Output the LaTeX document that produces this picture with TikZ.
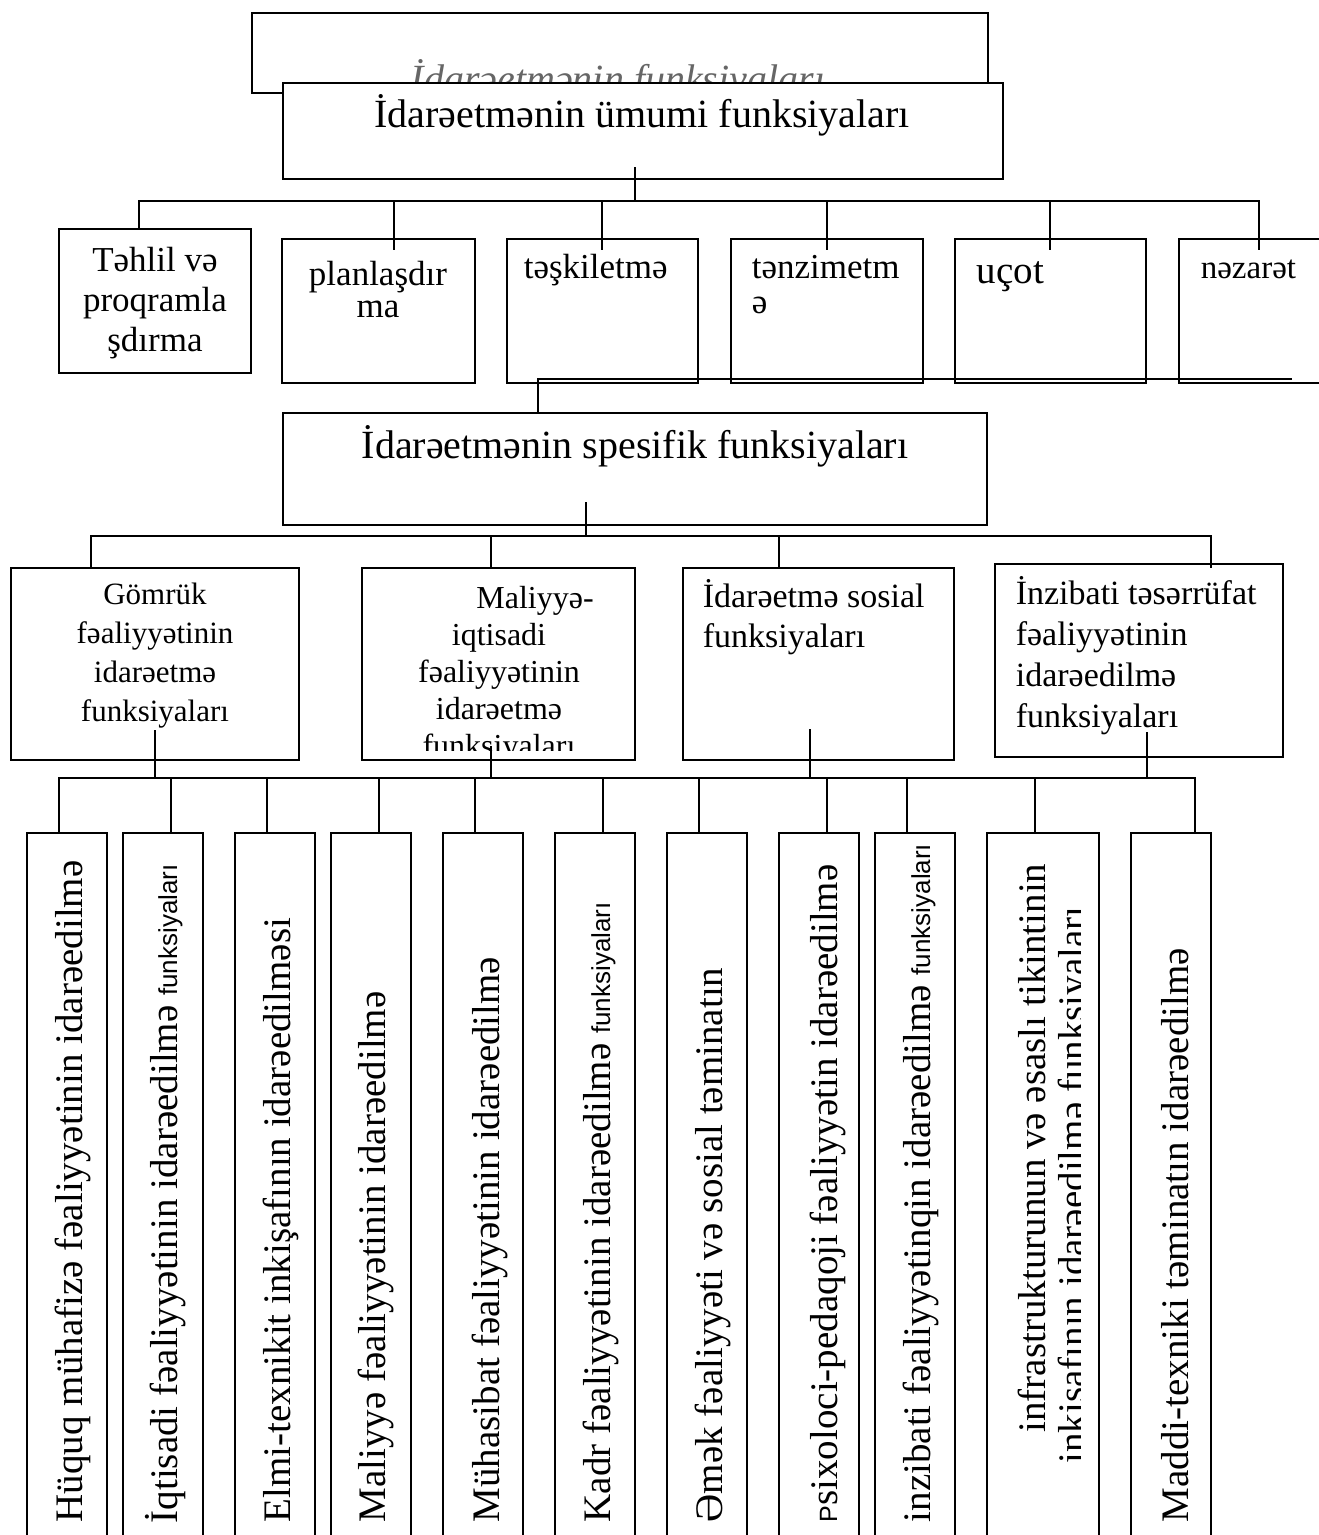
\documentclass[tikz,border=0pt]{standalone}
\usepackage{fontspec}
\setmainfont{Liberation Serif}
\setsansfont{Liberation Sans}

\begin{document}
\begin{tikzpicture}[x=1pt, y=-1pt, line width=1.6pt, line cap=rect,
	box/.style={draw, fill=white, inner sep=0pt},
	head/.style={anchor=base, inner sep=0pt, font=\fontsize{40}{48}\selectfont},
	cell/.style={anchor=base, align=center, inner sep=0pt, font=\fontsize{35}{40}\selectfont},
	lcell/.style={anchor=base west, align=left, inner sep=0pt, font=\fontsize{35}{40}\selectfont},
	side/.style={anchor=base west, rotate=90, inner sep=0pt, font=\fontsize{39}{45}\selectfont}]

	% \drawbox#name#x1#y1#x2#y2
	\def\drawbox#1#2#3#4#5{
		\node[box, minimum width=#4-#2, minimum height=#5-#3] (#1) at ({(#2+#4)/2}, {(#3+#5)/2}) {};
	}
	% smaller sans word
	\def\smallsf#1{{\sffamily\fontsize{26}{30}\selectfont #1}}

	\useasboundingbox (0, 0) rectangle (1319, 1535);
	\clip (0, 0) rectangle (1319, 1535);

	% title (multi-line texts sit on their last baseline)
	\drawbox{title}{252}{13}{988}{93}
	\node[head, font=\itshape\fontsize{40}{48}\selectfont, text=black!60] (titletext) at (618, 92) {İdarəetmənin funksiyaları};
	\drawbox{umumi}{283}{83}{1003}{179}
	\node[head] (umumitext) at (642, 127) {İdarəetmənin ümumi funksiyaları};

	% general functions
	\drawbox{tahlil}{59}{229}{251}{373}
	\drawbox{plan}{282}{239}{475}{383}
	\drawbox{teskil}{507}{239}{698}{383}
	\drawbox{tenzim}{731}{239}{923}{383}
	\drawbox{ucot}{955}{239}{1146}{383}
	\drawbox{nezaret}{1179}{239}{1340}{383}

	\node[cell] (tahliltext) at (155, 351) {Təhlil və\\proqramla\\şdırma};
	\node[cell, font=\fontsize{35}{32}\selectfont] (plantext) at (378, 317) {planlaşdır\\ma};
	\node[lcell] (teskiltext) at (523, 278) {təşkiletmə};
	\node[lcell, font=\fontsize{35}{35}\selectfont] (tenzimtext) at (751, 313) {tənzimetm\\ə};
	\node[lcell, font=\fontsize{39}{45}\selectfont] (ucottext) at (976, 283) {uçot};
	\node[lcell, font=\fontsize{33}{40}\selectfont] (nezarettext) at (1200, 278) {nəzarət};

	\coordinate (umumiout) at (635, 168);
	\coordinate (busA) at (635, 201);
	\draw (umumiout) -- (busA);
	\foreach \n/\x/\e in {tahlil/139/0, plan/394/11, teskil/602/11, tenzim/827/11, ucot/1050/11, nezaret/1259/11} {
		\coordinate (up-\n) at (\x, 201);
		\draw (up-\n) -- (up-\n |- \n.north) -- ++(0, \e);
	}
	\draw (up-tahlil) -- (up-nezaret);

	% specific functions
	\drawbox{spesifik}{283}{413}{987}{525}
	\node[head] (spesifiktext) at (635, 458) {İdarəetmənin spesifik funksiyaları};

	\coordinate (rowend) at (1291, 379);
	\coordinate (rowjoin) at (538, 379);
	\draw (rowend) -- (rowjoin) -- (rowjoin |- spesifik.north);

	\drawbox{gomruk}{11}{568}{299}{760}
	\drawbox{maliyye}{362}{568}{635}{760}
	\drawbox{sosial}{683}{568}{954}{760}
	\drawbox{inzibati}{995}{564}{1283}{757}

	\node[cell, font=\fontsize{31}{39}\selectfont] (gomruktext) at (155, 721) {Gömrük\\fəaliyyətinin\\idarəetmə\\funksiyaları};
	\begin{scope}
		\clip (maliyye.north west) rectangle (635, 750);
		\node[cell, font=\fontsize{32}{37}\selectfont] (maliyyetext) at (499, 756) {\hspace*{72pt}Maliyyə-\\iqtisadi\\fəaliyyətinin\\idarəetmə\\funksiyaları};
	\end{scope}
	\node[lcell, font=\fontsize{34}{40}\selectfont] (sosialtext) at (702, 647) {İdarəetmə sosial\\funksiyaları};
	\node[lcell, font=\fontsize{34}{41}\selectfont] (inzibatitext) at (1015, 727) {İnzibati təsərrüfat\\fəaliyyətinin\\idarəedilmə\\funksiyaları};

	\coordinate (spesifikout) at (586, 503);
	\coordinate (busB) at (586, 536);
	\draw (spesifikout) -- (busB);
	\foreach \n/\x/\e in {gomruk/91/0, maliyye/491/0, sosial/779/0, inzibati/1211/4} {
		\coordinate (mid-\n) at (\x, 536);
		\draw (mid-\n) -- (mid-\n |- \n.north) -- ++(0, \e);
	}
	\draw (mid-gomruk) -- (mid-inzibati);

	% branches
	\foreach \n/\x/\y in {gomruk/155/731, maliyye/491/747, sosial/810/730, inzibati/1147/733} {
		\coordinate (out-\n) at (\x, \y);
		\coordinate (join-\n) at (\x, 778);
		\draw (out-\n) -- (join-\n);
	}
	\foreach \i/\x/\r/\d in {1/27/107/59, 2/123/203/171, 3/235/315/267, 4/331/411/379, 5/443/523/475, 6/555/635/603,
		7/667/747/699, 8/779/859/827, 9/875/955/907, 10/987/1099/1035, 11/1131/1211/1195} {
		\drawbox{b\i}{\x}{833}{\r}{1560}
		\coordinate (low-\i) at (\d, 778);
		\draw (low-\i) -- (low-\i |- b\i.north);
	}
	\draw (low-1) -- (low-11);

	\node[side] (s1) at (82, 1523) {Hüquq mühafizə fəaliyyətinin idarəedilmə};
	\node[side] (s2) at (177, 1524) {İqtisadi fəaliyyətinin idarəedilmə \smallsf{funksiyaları}};
	\node[side] (s3) at (290, 1523) {Elmi-texnikit inkişafının idarəedilməsi};
	\node[side] (s4) at (385, 1523) {Maliyyə fəaliyyətinin idarəedilmə};
	\node[side] (s5) at (499, 1523) {Mühasibat fəaliyyətinin idarəedilmə};
	\node[side] (s6) at (610, 1523) {Kadr fəaliyyətinin idarəedilmə \smallsf{funksiyaları}};
	\node[side] (s7) at (722, 1523) {Əmək fəaliyyəti və sosial təminatın};
	\node[side] (s8) at (837, 1523) {{\sffamily\fontsize{25}{30}\selectfont P}sixoloci-pedaqoji fəaliyyətin idarəedilmə};
	\node[side] (s9) at (930, 1523) {inzibati fəaliyyətinqin idarəedilmə \smallsf{funksiyaları}};
	\node[side, anchor=base] (s10a) at (1045, 1148) {infrastrukturunun və əsaslı tikintinin};
	\begin{scope}
		\clip (b10.north west) rectangle (1080, 1535);
		\node[side, anchor=base] (s10b) at (1085, 1185) {inkişafının idarəedilmə funksiyaları};
	\end{scope}
	\node[side] (s11) at (1188, 1523) {Maddi-texniki təminatın idarəedilmə};
\end{tikzpicture}
\end{document}
